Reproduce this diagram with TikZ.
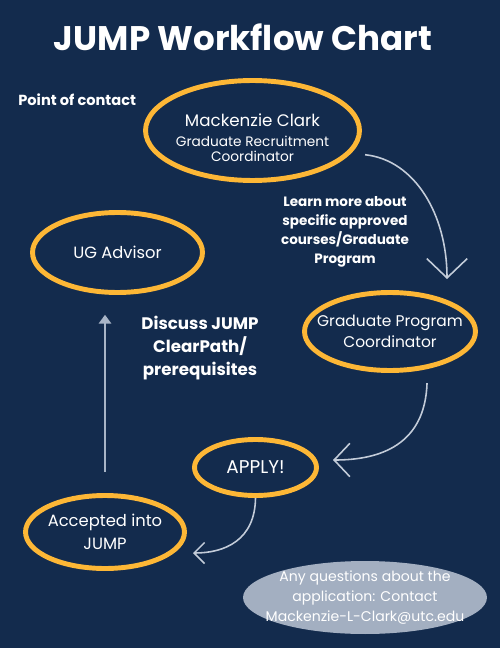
\documentclass[tikz,border=0pt]{standalone}
\usepackage{fontspec}
\setmainfont{Poppins}
\usepackage{xcolor}
\usepackage{tikz}
\usetikzlibrary{arrows.meta, positioning, shapes.geometric}
\definecolor{utcnavy}{HTML}{132B4D}
\definecolor{utcgold}{HTML}{FDB736}
\definecolor{linegray}{HTML}{C3CCD9}
\definecolor{upgray}{HTML}{A8B4C6}
\definecolor{pillgray}{HTML}{A3AFC1}

\begin{document}
\begin{tikzpicture}[
  x=0.02cm, y=-0.02cm,
  oval/.style={ellipse, draw=utcgold, line width=2.8pt, inner xsep=-10pt, inner ysep=-4pt,
               align=center, text=white, font=\fontsize{9.3}{12.5}\selectfont},
  lbl/.style={align=center, text=white, font=\bfseries\fontsize{7.7}{10.8}\selectfont},
  arr/.style={draw=linegray, line width=0.9pt},
  uparr/.style={-{Triangle[length=5pt, width=7pt]}, draw=upgray, fill=upgray, line width=1.7pt}
]
  \fill[utcnavy] (0,0) rectangle (500,648);
  \useasboundingbox (0,0) rectangle (500,648);

  \node[text=white, font=\bfseries\fontsize{19.4}{21}\selectfont] (title) at (243,37) {JUMP Workflow Chart};
  \node[lbl, anchor=west, inner sep=0pt, font=\bfseries\fontsize{8.3}{10}\selectfont] (poc) at (18,100) {Point of contact};

  \node[oval, minimum width=4.28cm, minimum height=2.0cm, font=\fontsize{7.8}{7.6}\selectfont] (mc) at (252.5,130.5)
    {{\fontsize{9.5}{9.5}\selectfont\rule{0pt}{15.8pt}Mackenzie Clark}\\[3.8pt]Graduate Recruitment\\[0.8pt]Coordinator};
  \node[oval, minimum width=3.4cm, minimum height=1.6cm] (ugadv) at (117.5,252.5) {UG Advisor};
  \node[oval, minimum width=3.42cm, minimum height=1.56cm, font=\fontsize{8.8}{12.3}\selectfont] (gpc) at (390,331.5) {Graduate Program\\Coordinator};
  \node[oval, minimum width=2.44cm, minimum height=1.12cm, font=\fontsize{10.5}{12}\selectfont] (apply) at (255.5,467.5) {APPLY!};
  \node[oval, minimum width=3.18cm, minimum height=1.46cm, font=\fontsize{9.3}{13}\selectfont] (accepted) at (105,532) {Accepted into\\JUMP};
  \node[ellipse, fill=pillgray, minimum width=4.88cm, minimum height=1.46cm, inner xsep=-12pt, inner ysep=-4pt,
        align=center, text=white, font=\fontsize{8}{11.3}\selectfont] (contact) at (365,597.5)
    {Any questions about the\\application: Contact\\Mackenzie-L-Clark@utc.edu};

  \node[lbl] (learn) at (345,231.5) {Learn more about\\specific approved\\courses/Graduate\\Program};
  \node[lbl, font=\bfseries\fontsize{9.5}{13}\selectfont] (discuss) at (200,348) {Discuss JUMP\\ClearPath/\\prerequisites};

  \coordinate (gpcin) at (447,279);
  \coordinate (applyin) at (333,460);
  \coordinate (acceptedin) at (193,553);

  \draw[arr, -{Straight Barb[length=11pt, width=23pt]}, shorten <=8pt]
    (mc.-13) .. controls (415,160) and (447,215) .. (gpcin);
  \draw[arr, -{Straight Barb[length=9pt, width=19pt]}, shorten <=8pt]
    (gpc.-45.5) .. controls (425,445) and (380,460) .. (applyin);
  \draw[arr, -{Straight Barb[length=6pt, width=12pt]}]
    (apply.south) .. controls (255,540) and (225,553) .. (acceptedin);
  \draw[uparr, shorten <=11.9pt, shorten >=11.3pt] (accepted.north) -- (accepted.north |- ugadv.south);
\end{tikzpicture}
\end{document}
